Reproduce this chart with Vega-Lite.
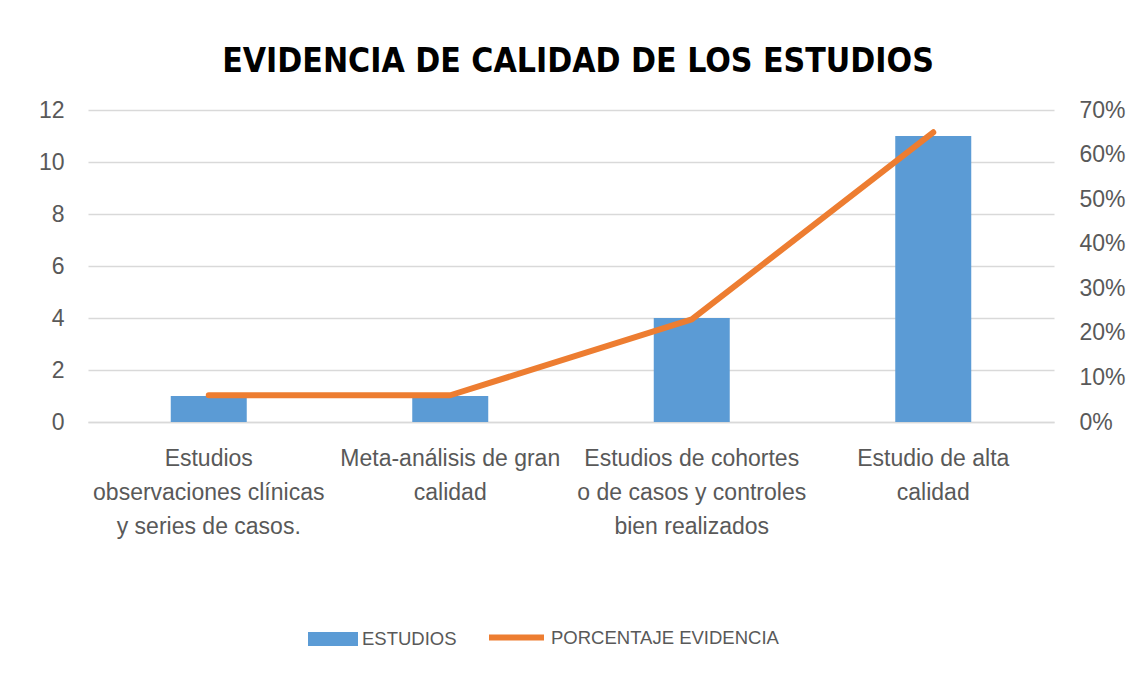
{
  "$schema": "https://vega.github.io/schema/vega-lite/v6.json",
  "width": 966,
  "height": 312,
  "autosize": "none",
  "padding": {"left": 88, "top": 110, "right": 87, "bottom": 257},
  "background": "white",
  "config": {
    "view": {"stroke": null},
    "font": "Liberation Sans",
    "axis": {"labelFont": "Liberation Sans", "labelColor": "#595959", "ticks": false, "domain": false}
  },
  "title": {
    "text": "EVIDENCIA DE CALIDAD DE LOS ESTUDIOS",
    "font": "DejaVu Sans Condensed",
    "fontSize": 33.5,
    "fontWeight": "bold",
    "color": "#000000",
    "anchor": "middle",
    "frame": "group",
    "baseline": "alphabetic",
    "offset": -6,
    "dx": 7
  },
  "data": {
    "values": [
      {"categoria": "Estudios|observaciones clínicas|y series de casos.", "estudios": 1, "porcentaje": 0.06},
      {"categoria": "Meta-análisis de gran|calidad", "estudios": 1, "porcentaje": 0.06},
      {"categoria": "Estudios de cohortes|o de casos y controles|bien realizados", "estudios": 4, "porcentaje": 0.23},
      {"categoria": "Estudio de alta|calidad", "estudios": 11, "porcentaje": 0.65}
    ]
  },
  "encoding": {
    "x": {
      "field": "categoria",
      "type": "nominal",
      "sort": null,
      "scale": {"paddingInner": 0, "paddingOuter": 0},
      "axis": {
        "title": null,
        "labelAngle": 0,
        "labelExpr": "split(datum.label, '|')",
        "labelFontSize": 23,
        "labelLineHeight": 34,
        "labelPadding": 25,
        "labelLimit": 400,
        "labelOverlap": false,
        "domain": true,
        "domainColor": "#d9d9d9",
        "domainWidth": 1.5
      }
    }
  },
  "layer": [
    {
      "mark": {"type": "bar", "size": 76},
      "encoding": {
        "y": {
          "field": "estudios",
          "type": "quantitative",
          "scale": {"domain": [0, 12], "nice": false},
          "axis": {
            "title": null,
            "values": [0, 2, 4, 6, 8, 10, 12],
            "labelFontSize": 23,
            "labelPadding": 24,
            "grid": true,
            "gridColor": "#d9d9d9",
            "gridWidth": 1.5
          }
        },
        "fill": {
          "datum": "ESTUDIOS",
          "scale": {"range": ["#5b9bd5"]},
          "legend": {
            "title": null,
            "orient": "none",
            "legendX": 220,
            "legendY": 504,
            "symbolType": "M-1,-0.28H1V0.28H-1Z",
            "symbolSize": 2500,
            "symbolStrokeWidth": 0,
            "labelFont": "Liberation Sans",
            "labelFontSize": 18.5,
            "labelLimit": 400,
            "labelColor": "#595959"
          }
        }
      }
    },
    {
      "mark": {"type": "line", "strokeWidth": 6, "strokeCap": "round", "strokeJoin": "round"},
      "encoding": {
        "y": {
          "field": "porcentaje",
          "type": "quantitative",
          "scale": {"domain": [0, 0.7], "nice": false},
          "axis": {
            "title": null,
            "orient": "right",
            "format": ".0%",
            "values": [0, 0.1, 0.2, 0.3, 0.4, 0.5, 0.6, 0.7],
            "labelFontSize": 23,
            "labelPadding": 25,
            "grid": false
          }
        },
        "stroke": {
          "datum": "PORCENTAJE EVIDENCIA",
          "scale": {"range": ["#ed7d31"]},
          "legend": {
            "title": null,
            "orient": "none",
            "legendX": 398,
            "legendY": 497,
            "symbolType": "stroke",
            "symbolSize": 3025,
            "symbolStrokeWidth": 6,
            "labelFont": "Liberation Sans",
            "labelFontSize": 18.5,
            "labelLimit": 400,
            "labelColor": "#595959"
          }
        }
      }
    }
  ],
  "resolve": {"scale": {"y": "independent", "fill": "independent", "stroke": "independent"}}
}
